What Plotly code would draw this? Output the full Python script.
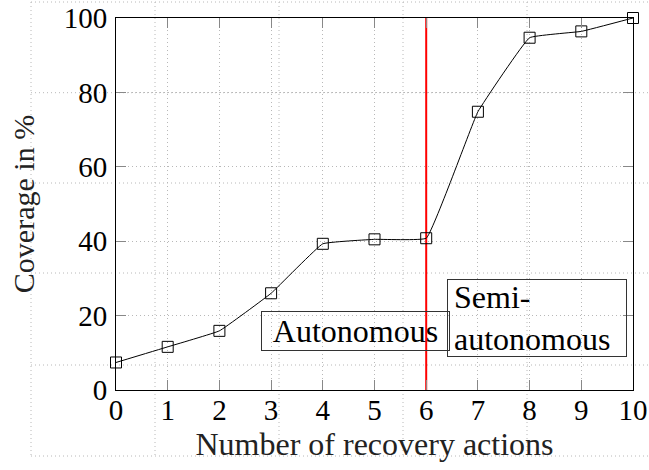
import plotly.graph_objects as go

# Data
actions = [0, 1, 2, 3, 4, 5, 6, 7, 8, 9, 10]
coverage = [7.4, 11.6, 15.9, 26.0, 39.3, 40.5, 40.8, 74.8, 94.7, 96.4, 100.0]
threshold_x = [6, 6]
threshold_y = [0, 100]
x_ticks = [0, 1, 2, 3, 4, 5, 6, 7, 8, 9, 10]
y_ticks = [0, 20, 40, 60, 80, 100]

W, H = 649, 470
L, R, T, B = 116, 16, 18, 80
PW, PH = W - L - R, H - T - B

FONT = "Liberation Serif"
DOT = "1px,3px"
GRID = "#b8b8b8"

fig = go.Figure()

fig.add_trace(go.Scatter(
    x=threshold_x, y=threshold_y, mode="lines",
    line=dict(color="#ff0000", width=2), showlegend=False, hoverinfo="skip",
    cliponaxis=False,
))
fig.add_trace(go.Scatter(
    x=actions, y=coverage, mode="lines+markers",
    line=dict(color="black", width=1, shape="spline", smoothing=0.25),
    marker=dict(symbol="square-open", size=11, color="black", line=dict(width=1, color="black")),
    cliponaxis=False, showlegend=False,
))

# background page grid (decorative)
def px2x(px):
    return (px - L) / PW

def py2y(py):
    return (H - B - py) / PH

shapes = []
for py in [2, 92.7, 183, 273, 365, 456]:
    shapes.append(dict(type="line", xref="paper", yref="paper",
                       x0=px2x(31), x1=px2x(660), y0=py2y(py), y1=py2y(py),
                       line=dict(color=GRID, width=1, dash=DOT), layer="below"))
for px in [31, 155, 279, 403, 527]:
    shapes.append(dict(type="line", xref="paper", yref="paper",
                       x0=px2x(px), x1=px2x(px), y0=py2y(2), y1=py2y(456),
                       line=dict(color=GRID, width=1, dash=DOT), layer="below"))

annotations = [
    dict(x=4.64, y=15.9, xref="x", yref="y", text="Autonomous", showarrow=False,
         font=dict(family=FONT, size=32, color="black"),
         bordercolor="#333333", borderwidth=1, borderpad=2,
         width=183, height=34, align="center", bgcolor="rgba(0,0,0,0)"),
    dict(x=8.15, y=19.35, xref="x", yref="y", text="Semi-<br>autonomous", showarrow=False,
         font=dict(family=FONT, size=32, color="black"),
         bordercolor="#333333", borderwidth=1, borderpad=6,
         width=166, height=64, align="left", bgcolor="rgba(0,0,0,0)"),
]

axis_common = dict(
    showline=True, linecolor="black", linewidth=1, mirror="ticks",
    ticks="inside", ticklen=10, tickwidth=1, tickcolor="#888888",
    showgrid=True, gridcolor=GRID, gridwidth=1, griddash=DOT,
    zeroline=False, tickfont=dict(family=FONT, size=29, color="black"),
)

fig.update_layout(
    width=W, height=H,
    margin=dict(l=L, r=R, t=T, b=B, autoexpand=False),
    paper_bgcolor="white", plot_bgcolor="rgba(0,0,0,0)",
    shapes=shapes, annotations=annotations,
    xaxis=dict(range=[0, 10], tickvals=x_ticks, ticktext=[str(v) for v in x_ticks],
               title=dict(text="Number of recovery actions", standoff=4,
                          font=dict(family=FONT, size=32, color="#222222")),
               ticklabelstandoff=-6, **axis_common),
    yaxis=dict(range=[0, 100], tickvals=y_ticks, ticktext=[str(v) for v in y_ticks],
               title=dict(text="Coverage in %", standoff=20,
                          font=dict(family=FONT, size=30, color="#222222")),
               ticklabelstandoff=2, **axis_common),
)

fig.write_html("out.html", config={"displayModeBar": False},
               post_script="document.body.style.margin='0';document.body.style.overflow='hidden';")
